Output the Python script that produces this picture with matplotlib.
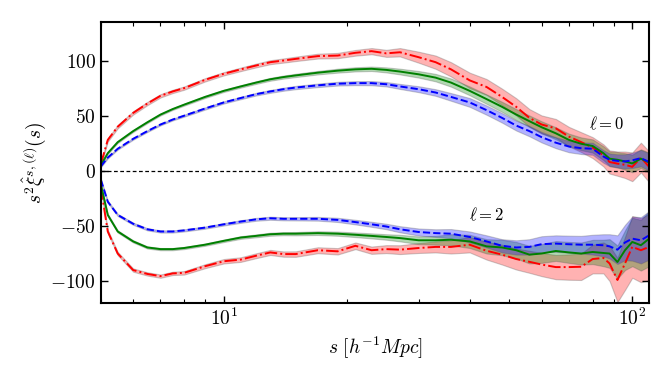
import numpy as np
import matplotlib.pyplot as plt

plt.rcParams['font.family'] = 'serif'
plt.rcParams['font.serif'] = ['cmr10']
plt.rcParams['mathtext.fontset'] = 'cm'
plt.rcParams['axes.formatter.use_mathtext'] = True

# separation bins
s = [5, 5.2, 5.5, 6, 6.5, 7, 7.5, 8, 9, 10, 11, 12, 13, 14, 15, 17, 19, 21, 23, 25,
     27, 30, 33, 36, 40, 44, 48, 52, 56, 60, 65, 70, 75, 80, 85, 88, 92, 96, 100, 105, 110]

# monopole
red_l0 = [6, 28, 40, 52.5, 61, 68, 72, 75, 82.5, 88, 92, 95.5, 98.5, 100, 101.5, 104, 104.5, 107, 108.5, 106.5,
          107.5, 103, 98.5, 92, 82, 76, 67, 58, 48, 42, 38.5, 31, 26, 21, 14, 8, 6.5, 5.5, 3.6, 12, 3.6]
green_l0 = [5, 16, 26, 36, 44, 51, 56, 60, 67, 72.5, 76.5, 80, 83, 85, 86.5, 89, 90.8, 92, 92.5, 91.5,
            90, 87.5, 84.5, 80, 72.5, 65, 58, 51, 45, 39.5, 34, 28, 24.5, 22.5, 16, 11, 10, 8.5, 6.7, 11, 7.5]
blue_l0 = [4, 12, 20, 29, 36, 42, 46.5, 50, 56.5, 62, 66, 69.5, 72, 74, 75.5, 77.5, 79, 79.5, 79.5, 78.5,
           76.5, 74, 71, 67, 62, 55, 48, 41, 36, 30.5, 25.5, 22, 20.5, 20, 13, 10, 9, 8.5, 9.5, 11.5, 8]

# quadrupole
red_l2 = [-15, -55, -75, -90, -93.5, -95.5, -93, -92.5, -86.5, -82, -80.5, -77, -74, -75.5, -75.5, -72, -73, -68, -72, -71,
          -71.5, -70, -69, -69, -67, -72.5, -76, -80, -82.5, -85, -87.3, -87.3, -87, -80, -79, -84, -99, -84, -69, -72, -69]
green_l2 = [-12, -40, -55, -64, -69.5, -71, -71, -70, -67, -63.5, -60.5, -59, -57.5, -57, -57, -56.5, -57, -58, -59, -60,
            -61, -63, -63, -62.5, -64, -68.5, -69.5, -72, -76, -75, -72.7, -74, -75, -73.6, -74.5, -75, -82.7, -72, -64.5, -67.5, -61.5]
blue_l2 = [-8, -28, -40, -48, -53, -55, -55, -54, -51.5, -48.5, -46, -44, -43, -43.5, -43.5, -43.5, -44.5, -46.5, -48.5, -50.5,
           -53, -55.5, -56.5, -57, -60, -64, -68, -69.5, -69, -66.5, -66, -66.6, -67, -67, -67.5, -68.5, -71.5, -65, -61.5, -63, -58.5]

# error band half-widths
red_l0_err = [1.5, 1.5, 1.5, 1.5, 1.5, 1.5, 1.5, 1.5, 1.5, 1.5, 1.6, 1.7, 1.8, 1.9, 2, 2.2, 2.4, 2.6, 2.8, 3.2,
              3.8, 5, 6, 6.5, 7, 7.2, 7.5, 7.8, 8, 8.2, 8.5, 8.8, 9, 9.5, 10, 10.5, 11, 12, 13, 13.5, 14]
green_l0_err = [0.8, 0.8, 0.8, 0.8, 0.8, 0.8, 0.8, 0.9, 1, 1, 1.1, 1.2, 1.3, 1.4, 1.5, 1.6, 1.8, 1.9, 2, 2.3,
                2.6, 3, 3.4, 3.7, 4, 4.3, 4.6, 5, 5.2, 5.4, 5.5, 5.7, 5.8, 6, 6.3, 6.6, 7, 7.5, 8, 8.5, 9]
blue_l0_err = [0.8, 0.8, 0.8, 0.8, 0.8, 0.8, 0.8, 0.9, 1, 1, 1.1, 1.2, 1.3, 1.4, 1.5, 1.6, 1.7, 1.8, 1.9, 2,
               2.3, 2.7, 3, 3.5, 4, 4.2, 4.3, 4.5, 4.7, 4.8, 5, 5.2, 5.3, 5.5, 5.7, 5.8, 6, 6.5, 7, 7.5, 8]
red_l2_err = [1.5, 1.5, 1.5, 1.5, 1.5, 1.5, 1.5, 1.6, 1.8, 2, 2.1, 2.2, 2.3, 2.4, 2.5, 2.7, 2.9, 3, 3.3, 3.6,
              4, 4.5, 5, 6, 7, 8, 9, 9.5, 10, 10.5, 11, 11.5, 12, 13, 14, 16, 20, 24, 28, 29, 30]
green_l2_err = [1, 1, 1, 1, 1, 1, 1, 1, 1, 1.1, 1.2, 1.3, 1.4, 1.4, 1.5, 1.7, 1.9, 2.1, 2.3, 2.5,
                3, 3.5, 4, 5, 6, 6.5, 7, 7.5, 8, 8.5, 9, 9.5, 10, 11, 12, 13, 15, 18, 22, 23, 25]
blue_l2_err = [1, 1, 1, 1, 1, 1, 1, 1, 1, 1.1, 1.2, 1.3, 1.4, 1.4, 1.5, 1.7, 1.9, 2.1, 2.3, 2.5,
               2.8, 3.2, 3.5, 4.2, 5, 5.5, 6, 6.5, 7, 7.2, 7.5, 7.8, 8, 9, 10, 11, 13, 16, 20, 21, 22]

s = np.array(s)

fig = plt.figure(figsize=(6.72, 3.78), dpi=100)
ax = fig.add_axes([0.150, 0.198, 0.816, 0.744])

curves = [
    (red_l0, red_l0_err, 'r', '-.'),
    (green_l0, green_l0_err, 'g', '-'),
    (blue_l0, blue_l0_err, 'b', '--'),
    (red_l2, red_l2_err, 'r', '-.'),
    (green_l2, green_l2_err, 'g', '-'),
    (blue_l2, blue_l2_err, 'b', '--'),
]

for vals, err, c, ls in curves:
    vals = np.array(vals)
    err = np.array(err)
    ax.fill_between(s, vals - err, vals + err, facecolor=c, edgecolor='0.35', alpha=0.3, lw=0.8)

for vals, err, c, ls in curves:
    ax.plot(s, vals, color=c, ls=ls, lw=1.4)

ax.axhline(0, color='k', ls='--', lw=0.9, dashes=(3, 2))

ax.set_xscale('log')
ax.set_xlim(5, 110)
ax.set_ylim(-120, 135)
ax.set_yticks([-100, -50, 0, 50, 100])

ax.text(86.5, 43, r'$\ell=0$', fontsize=12, ha='center', va='center')
ax.text(44, -40, r'$\ell=2$', fontsize=12, ha='center', va='center')

ax.set_xlabel(r'$s\ [h^{-1}Mpc]$', fontsize=14)
ax.set_ylabel(r'$s^2\hat{\xi}^{s,(\ell)}(s)$', fontsize=14, labelpad=2)

ax.tick_params(which='both', direction='in', top=True, right=True, labelsize=14)
ax.tick_params(which='major', length=5, width=1)
ax.tick_params(which='minor', length=3, width=0.8)
for sp in ax.spines.values():
    sp.set_linewidth(1.5)

fig.savefig('out.png', dpi=100)
